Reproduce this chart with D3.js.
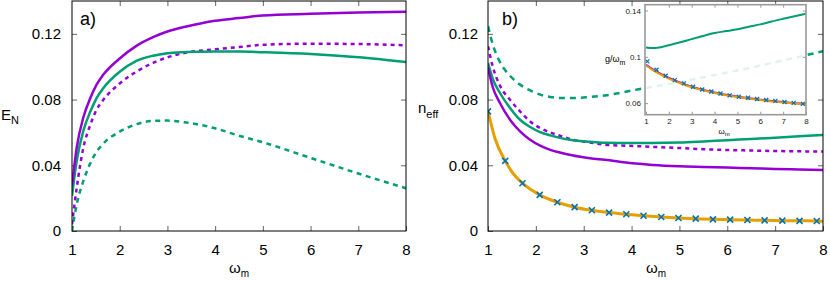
<!DOCTYPE html>
<html>
<head>
<meta charset="utf-8">
<script src="https://cdn.jsdelivr.net/npm/d3@7"></script>
<style>
body{margin:0;background:#fff}
text{font-family:"Liberation Sans",Arial,sans-serif}
</style>
</head>
<body>
<svg id="chart" width="830" height="282"></svg>
<script>
// ---- data ----
const omegaTicks = [1, 2, 3, 4, 5, 6, 7, 8];
const omegaTickLabels = ["1", "2", "3", "4", "5", "6", "7", "8"];
const yTicks = [0, 0.04, 0.08, 0.12];
const yTickLabels = ["0", "0.04", "0.08", "0.12"];
const insetYTicks = [0.06, 0.1, 0.14];
const insetYTickLabels = ["0.06", "0.1", "0.14"];

// panel a) : E_N
const omegaA = [1, 1.1, 1.24, 1.38, 1.51, 1.65, 2, 2.35, 2.7, 3, 3.4, 4, 4.5, 5, 6, 7, 8];
const enPurple = [0.0276, 0.051, 0.0694, 0.0806, 0.0888, 0.0949, 0.105, 0.1127, 0.118, 0.1214, 0.1245, 0.128, 0.1296, 0.1312, 0.1322, 0.133, 0.1335];
const enGreen = [0.0214, 0.0429, 0.0612, 0.0724, 0.0806, 0.0867, 0.0969, 0.1035, 0.1067, 0.1082, 0.109, 0.1092, 0.1092, 0.1088, 0.1077, 0.1057, 0.1028];
const enPurpleDash = [0.004, 0.0265, 0.051, 0.0643, 0.0735, 0.0796, 0.0898, 0.097, 0.1024, 0.1057, 0.1086, 0.1106, 0.112, 0.1133, 0.114, 0.1138, 0.113];
const enGreenDash = [0, 0.0163, 0.0306, 0.041, 0.048, 0.053, 0.0605, 0.065, 0.067, 0.0672, 0.066, 0.0625, 0.058, 0.054, 0.0445, 0.035, 0.026];

// panel b) : n_eff
const omegaB = [1, 1.1, 1.25, 1.46, 1.67, 1.88, 2.09, 2.3, 2.5, 2.78, 3.13, 3.44, 4.02, 4.44, 5, 5.5, 6, 6.5, 7, 7.5, 8];
const neGreenDash = [0.1247, 0.1135, 0.1028, 0.0945, 0.0891, 0.0856, 0.083, 0.0816, 0.081, 0.081, 0.0816, 0.0825, 0.0856, 0.0878, 0.0905, 0.0935, 0.0965, 0.0995, 0.1028, 0.106, 0.1095];
const neGreen = [0.1023, 0.0925, 0.084, 0.0749, 0.0677, 0.0633, 0.0602, 0.0582, 0.0567, 0.0553, 0.0543, 0.0537, 0.0535, 0.0535, 0.0538, 0.0545, 0.0553, 0.056, 0.0568, 0.0576, 0.0585];
const nePurpleDash = [0.1125, 0.1, 0.0885, 0.0799, 0.0728, 0.0667, 0.0627, 0.06, 0.058, 0.0555, 0.0539, 0.0525, 0.0518, 0.0512, 0.0505, 0.0498, 0.0493, 0.049, 0.0487, 0.0485, 0.0484];
const nePurple = [0.0993, 0.0875, 0.0779, 0.0677, 0.0606, 0.0555, 0.0519, 0.0494, 0.0478, 0.0459, 0.0443, 0.0433, 0.0412, 0.0402, 0.0394, 0.039, 0.0386, 0.0382, 0.0378, 0.0375, 0.0372];

const omegaOrange = [1, 1.15, 1.36, 1.5, 1.72, 2.08, 2.45, 2.81, 3.17, 3.53, 3.89, 4.25, 4.62, 4.98, 5.34, 5.7, 6.06, 6.42, 6.78, 7.15, 7.51, 7.87, 8];
const neOrange = [0.0728, 0.056, 0.0427, 0.036, 0.0291, 0.022, 0.0175, 0.0145, 0.0126, 0.0112, 0.0102, 0.0093, 0.0085, 0.0079, 0.0075, 0.0071, 0.0069, 0.0067, 0.0065, 0.0063, 0.0062, 0.0061, 0.006];
const omegaCross = [1, 1.36, 1.72, 2.08, 2.45, 2.81, 3.17, 3.53, 3.89, 4.25, 4.62, 4.98, 5.34, 5.7, 6.06, 6.42, 6.78, 7.15, 7.51, 7.87];
const neCross = [0.0728, 0.0427, 0.0291, 0.022, 0.0175, 0.0145, 0.0126, 0.0112, 0.0102, 0.0093, 0.0085, 0.0079, 0.0075, 0.0071, 0.0069, 0.0067, 0.0065, 0.0063, 0.0062, 0.0061];

// inset : g / omega_m
const omegaInset = [1, 1.3, 1.5, 2, 2.5, 3, 3.5, 4, 4.5, 5, 5.5, 6, 6.5, 7, 7.5, 8];
const gGreen = [0.108, 0.1075, 0.1078, 0.11, 0.1125, 0.1153, 0.118, 0.1205, 0.1222, 0.1238, 0.126, 0.128, 0.1305, 0.1328, 0.135, 0.1372];
const gPurple = [0.0931, 0.0891, 0.0868, 0.0817, 0.0776, 0.0741, 0.0714, 0.0692, 0.0672, 0.0656, 0.0642, 0.063, 0.0619, 0.0609, 0.06, 0.0592];
const gOrange = [0.0925, 0.0885, 0.0862, 0.0812, 0.0772, 0.0737, 0.071, 0.0688, 0.0668, 0.0652, 0.0638, 0.0626, 0.0615, 0.0605, 0.0596, 0.0588];
const omegaInsetCross = [1.06, 1.46, 1.86, 2.26, 2.66, 3.06, 3.46, 3.86, 4.26, 4.66, 5.06, 5.46, 5.86, 6.26, 6.66, 7.06, 7.46, 7.86];
const gCross = [0.096, 0.0888, 0.0836, 0.0799, 0.077, 0.0741, 0.0718, 0.07, 0.0683, 0.0667, 0.0655, 0.0646, 0.0636, 0.0627, 0.0619, 0.061, 0.0602, 0.0594];

const PURPLE = "#9400d3", GREEN = "#009e73", ORANGE = "#e69f00", BLUE = "#0072b2";

const svg = d3.select("#chart");

// draws an x marker at each point
function crosses(g, xs, ys, x, y, r, w) {
    g.selectAll(null).data(xs).enter().append("path")
        .attr("d", (d, i) => {
            let cx = x(d), cy = y(ys[i]);
            return "M" + (cx - r) + "," + (cy - r) + "L" + (cx + r) + "," + (cy + r) +
                   "M" + (cx - r) + "," + (cy + r) + "L" + (cx + r) + "," + (cy - r);
        })
        .attr("stroke", BLUE).attr("stroke-width", w).attr("fill", "none");
}

function curve(g, xs, ys, x, y, color, width, dash) {
    let line = d3.line().x(d => x(d[0])).y(d => y(d[1])).curve(d3.curveMonotoneX);
    let p = g.append("path")
        .datum(xs.map((d, i) => [d, ys[i]]))
        .attr("d", line)
        .attr("fill", "none")
        .attr("stroke", color)
        .attr("stroke-width", width)
        .attr("stroke-linejoin", "round");
    if (dash) p.attr("stroke-dasharray", dash);
    return p;
}

function makePanel(id, left, right, labelPad) {
    let x = d3.scaleLinear().domain([1, 8]).range([left, right]);
    let y = d3.scaleLinear().domain([0, 0.14]).range([231, 1]);
    svg.append("clipPath").attr("id", id).append("rect")
        .attr("x", left).attr("y", 1).attr("width", right - left).attr("height", 230);

    let ax = svg.append("g");
    ax.append("g").attr("transform", "translate(0,231)")
        .call(d3.axisBottom(x).tickValues(omegaTicks).tickSizeInner(-5).tickSizeOuter(0).tickPadding(13.5)
            .tickFormat((d, i) => omegaTickLabels[i]));
    ax.append("g").attr("transform", "translate(0,1)")
        .call(d3.axisTop(x).tickValues(omegaTicks.slice(1, -1)).tickSizeInner(-5).tickSizeOuter(0).tickFormat(""));
    ax.append("g").attr("transform", "translate(" + left + ",0)")
        .call(d3.axisLeft(y).tickValues(yTicks).tickSizeInner(-5).tickSizeOuter(0).tickPadding(labelPad)
            .tickFormat((d, i) => yTickLabels[i]));
    ax.append("g").attr("transform", "translate(" + right + ",0)")
        .call(d3.axisRight(y).tickValues(yTicks.slice(1)).tickSizeInner(-5).tickSizeOuter(0).tickFormat(""));
    ax.selectAll(".domain").remove();
    ax.selectAll(".tick line").attr("stroke", "#666");
    ax.selectAll(".tick text").attr("font-size", 15).attr("fill", "#000")
        .attr("font-family", '"Liberation Sans", Arial, sans-serif');

    let g = svg.append("g").attr("clip-path", "url(#" + id + ")");
    return {x: x, y: y, g: g, left: left, right: right};
}

// ---------- panel a ----------
let A = makePanel("clipA", 72, 406, 11);
curve(A.g, omegaA, enGreenDash, A.x, A.y, GREEN, 2.5, "5,4.5");
curve(A.g, omegaA, enPurpleDash, A.x, A.y, PURPLE, 2.5, "4,4");
curve(A.g, omegaA, enGreen, A.x, A.y, GREEN, 2.5);
curve(A.g, omegaA, enPurple, A.x, A.y, PURPLE, 2.5);
svg.append("rect").attr("x", 72).attr("y", 1).attr("width", 334).attr("height", 230)
    .attr("fill", "none").attr("stroke", "#000").attr("stroke-width", 1);

// ---------- panel b ----------
let B = makePanel("clipB", 488, 823, 10);
curve(B.g, omegaB, neGreenDash, B.x, B.y, GREEN, 2.5, "6,5");
curve(B.g, omegaB, nePurpleDash, B.x, B.y, PURPLE, 2.5, "4,4");
curve(B.g, omegaB, neGreen, B.x, B.y, GREEN, 2.5);
curve(B.g, omegaB, nePurple, B.x, B.y, PURPLE, 2.5);
curve(B.g, omegaOrange, neOrange, B.x, B.y, ORANGE, 3);
crosses(B.g, omegaCross, neCross, B.x, B.y, 3, 1.6);

// ---------- inset ----------
let ix = d3.scaleLinear().domain([1, 8]).range([646, 806]);
let iy = d3.scaleLinear().domain([0.05, 0.145]).range([114.7, 4.7]);
svg.append("rect").attr("x", 645).attr("y", 4.7).attr("width", 161).attr("height", 110)
    .attr("fill", "#fff").attr("fill-opacity", 0.88);
svg.append("clipPath").attr("id", "clipI").append("rect")
    .attr("x", 645).attr("y", 4.7).attr("width", 161).attr("height", 110);

let ia = svg.append("g");
ia.append("g").attr("transform", "translate(0,114.7)")
    .call(d3.axisBottom(ix).tickValues(omegaTicks).tickSizeInner(-3).tickSizeOuter(0).tickPadding(4)
        .tickFormat((d, i) => omegaTickLabels[i]));
ia.append("g").attr("transform", "translate(645,0)")
    .call(d3.axisLeft(iy).tickValues(insetYTicks).tickSizeInner(-3).tickSizeOuter(0).tickPadding(4)
        .tickFormat((d, i) => insetYTickLabels[i]));
ia.append("g").attr("transform", "translate(806,0)")
    .call(d3.axisRight(iy).tickValues(insetYTicks).tickSizeInner(-3).tickSizeOuter(0).tickFormat(""));
ia.append("g").attr("transform", "translate(0,4.7)")
    .call(d3.axisTop(ix).tickValues(omegaTicks.slice(1, -1)).tickSizeInner(-3).tickSizeOuter(0).tickFormat(""));
ia.selectAll(".domain").remove();
ia.selectAll(".tick line").attr("stroke", "#999");
ia.selectAll(".tick text").attr("font-size", 8).attr("fill", "#222")
    .attr("font-family", '"Liberation Sans", Arial, sans-serif');

let ig = svg.append("g").attr("clip-path", "url(#clipI)");
curve(ig, omegaInset, gGreen, ix, iy, GREEN, 2);
curve(ig, omegaInset, gPurple, ix, iy, PURPLE, 2);
curve(ig, omegaInset, gOrange, ix, iy, ORANGE, 2);
crosses(ig, omegaInsetCross, gCross, ix, iy, 2, 1.2);
svg.append("rect").attr("x", 645).attr("y", 4.7).attr("width", 161).attr("height", 110)
    .attr("fill", "none").attr("stroke", "#999").attr("stroke-width", 1.6);

svg.append("rect").attr("x", 488).attr("y", 1).attr("width", 335).attr("height", 230)
    .attr("fill", "none").attr("stroke", "#000").attr("stroke-width", 1);

// ---------- labels ----------
function subLabel(x, y, main, sub, size, subSize, shift, anchor) {
    let t = svg.append("text").attr("x", x).attr("y", y).attr("font-size", size)
        .attr("text-anchor", anchor || "start").attr("fill", "#000");
    t.append("tspan").text(main);
    t.append("tspan").attr("dy", shift).attr("font-size", subSize).text(sub);
    return t;
}
subLabel(1, 120, "E", "N", 15, 11, 4);
subLabel(418, 113, "n", "eff", 15, 11, 5);
subLabel(239, 273, "ω", "m", 15, 10, 4, "middle");
subLabel(656, 273, "ω", "m", 15, 10, 4, "middle");
subLabel(605, 62, "g/ω", "m", 9, 7, 2.5);
subLabel(724, 134, "ω", "m", 8, 6, 2, "middle");

svg.append("text").attr("x", 80).attr("y", 25).attr("font-size", 18).text("a)");
svg.append("text").attr("x", 502).attr("y", 25).attr("font-size", 18).text("b)");
</script>
</body>
</html>
